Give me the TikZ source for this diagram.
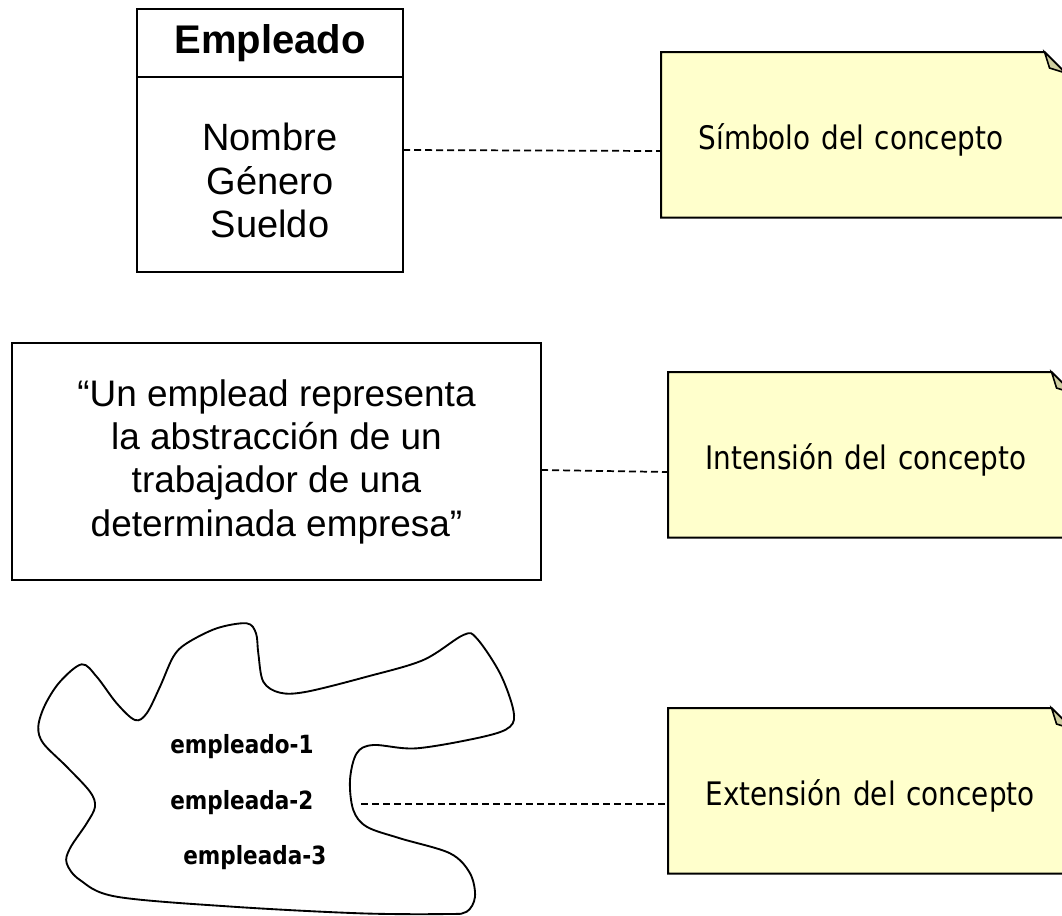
\documentclass[tikz,border=0pt]{standalone}
\usepackage{fontspec}
\setmainfont{Liberation Sans}
\newfontfamily\notafont[FakeStretch=0.86]{DejaVu Sans}
\usetikzlibrary{positioning,backgrounds}
\definecolor{notafondo}{RGB}{255,255,204}
\definecolor{notapliegue}{RGB}{206,206,160}

\newcommand\pliegue[1]{%
	\begin{scope}[on background layer]
		\draw[line width=1.5pt, fill=notafondo] (#1.south west) -- (#1.north west) -- ([xshift=-15.75pt]#1.north east) -- ([yshift=-15.75pt]#1.north east) -- (#1.south east) -- cycle;
		\draw[line width=1.2pt, fill=notapliegue] ([xshift=-15.75pt]#1.north east) -- ([xshift=-12pt,yshift=-12pt]#1.north east) -- ([yshift=-15.75pt]#1.north east) -- cycle;
	\end{scope}}

\begin{document}
\begin{tikzpicture}[x=0.75pt, y=-0.75pt,
	caja/.style={draw, line width=1.5pt, align=center, inner sep=0pt, outer sep=0pt},
	nota/.style={inner xsep=28pt, inner ysep=0pt, text width=247pt, align=left, minimum height=123.75pt, anchor=north west, font=\notafont\fontsize{24.3}{29}\selectfont, text height=22.5pt, text depth=0pt},
	etiqueta/.style={anchor=west, inner sep=0pt, font=\notafont\bfseries\fontsize{18.8}{22}\selectfont},
	conector/.style={line width=1.3pt, dash pattern=on 5.25pt off 3pt}]
	\useasboundingbox (0,0) rectangle (1062,915);
	\clip (0,0) rectangle (1062,915);

	\node[caja, minimum width=199.5pt, minimum height=51pt, font=\bfseries\fontsize{30}{34}\selectfont] (empleado) at (270,43) {Empleado};
	\node[caja, minimum width=199.5pt, minimum height=146.25pt, below=0pt of empleado, font=\fontsize{28.5}{32.5}\selectfont] (atributos) {\rule{0pt}{30pt}Nombre\\Género\\Sueldo};

	\node[caja, minimum width=396.75pt, minimum height=177.75pt, font=\fontsize{27.7}{32.5}\selectfont] (definicion) at (276.5,461.5) {“Un emplead representa\\la abstracción de un\\trabajador de una\\determinada empresa”};

	\draw[line width=1.4pt] plot[smooth cycle, tension=0.55] coordinates {
		(81.7,664.3) (96.7,676.7) (116.7,703.3) (135,720) (146.7,713.3) (160,686.7)
		(173.3,656.7) (186.7,643.3) (216.7,628.3) (246.7,623.3) (256,633.3) (258.3,653.3)
		(263.3,681.7) (280,692.7) (306.7,691.7) (366.7,676.7) (423.3,660) (463.3,635)
		(476.7,638.3) (500,673.3) (513.3,710) (510,726.7) (483.3,736.7) (416.7,748.3)
		(373.3,745) (356.7,753.3) (350,780) (353.3,810) (366.7,826.7) (400,838.3)
		(450,853.3) (470,873.3) (475,896.7) (466.7,911.7) (446.7,914) (360,913.3)
		(233,906.7) (116.7,896.7) (80,880) (66.7,863.3) (70,848.3) (86.7,823.3)
		(95,806.7) (90,791.7) (66.7,766.7) (43.3,743.3) (38.3,726.7) (45,705) (60,681.7)};
	\node[etiqueta] (emp1) at (170,747) {empleado-1};
	\node[etiqueta] (emp2) at (170,803) {empleada-2};
	\node[etiqueta] (emp3) at (183,858) {empleada-3};
	\coordinate (borde) at (361,804);

	\node[nota] (simbolo) at (661,52) {Símbolo del concepto};
	\pliegue{simbolo}
	\node[nota] (intension) at (668,372) {Intensión del concepto};
	\pliegue{intension}
	\node[nota] (extension) at (668,708) {Extensión del concepto};
	\pliegue{extension}

	\draw[conector] (atributos.east |- 0,150) -- (simbolo.west |- 0,151);
	\draw[conector] (definicion.east |- 0,470) -- (intension.west |- 0,472);
	\draw[conector] (borde) -- (extension.west |- borde);
\end{tikzpicture}
\end{document}
